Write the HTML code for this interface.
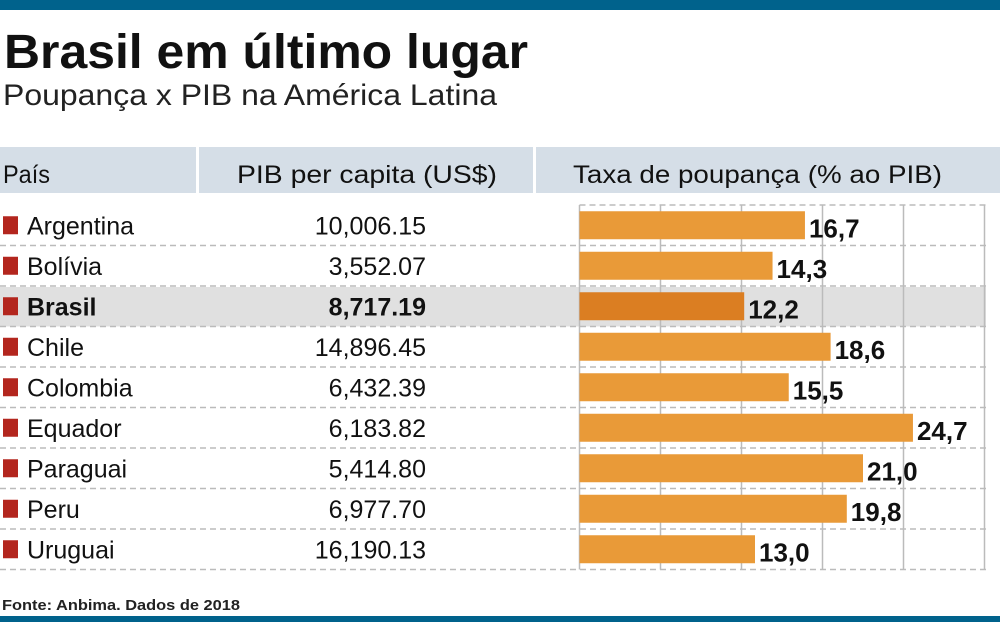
<!DOCTYPE html>
<html><head><meta charset="utf-8"><style>
body{margin:0;background:#fff}
svg{display:block;font-family:"Liberation Sans Narrow","Liberation Sans",sans-serif}
</style></head><body>
<svg id="c" width="1000" height="622" viewBox="0 0 1000 622">
<rect x="0" y="0" width="1000" height="10" fill="#00628c"/>
<rect x="0" y="616" width="1000" height="6" fill="#00628c"/>
<text x="4" y="68" font-size="48" font-weight="bold" fill="#111" textLength="524" lengthAdjust="spacingAndGlyphs">Brasil em último lugar</text>
<text x="3" y="105" font-size="30" fill="#222" textLength="494" lengthAdjust="spacingAndGlyphs">Poupança x PIB na América Latina</text>
<rect x="0" y="147" width="1000" height="46" fill="#d5dee7"/>
<rect x="196" y="147" width="3" height="46" fill="#fff"/>
<rect x="533" y="147" width="3" height="46" fill="#fff"/>
<text x="3" y="183" font-size="25" fill="#111" textLength="47" lengthAdjust="spacingAndGlyphs">País</text>
<text x="237" y="183" font-size="25" fill="#111" textLength="260" lengthAdjust="spacingAndGlyphs">PIB per capita (US$)</text>
<text x="573" y="183" font-size="25" fill="#111" textLength="369" lengthAdjust="spacingAndGlyphs">Taxa de poupança (% ao PIB)</text>
<g id="g"></g>
<text x="2" y="610" font-size="15" font-weight="bold" fill="#222" textLength="238" lengthAdjust="spacingAndGlyphs">Fonte: Anbima. Dados de 2018</text>
</svg>
<script>
const countries=["Argentina","Bolívia","Brasil","Chile","Colombia","Equador","Paraguai","Peru","Uruguai"];
const gdpLabels=["10,006.15","3,552.07","8,717.19","14,896.45","6,432.39","6,183.82","5,414.80","6,977.70","16,190.13"];
const savings=[16.7,14.3,12.2,18.6,15.5,24.7,21.0,19.8,13.0];
const gridTicks=[0,6,12,18,24,30];
const highlight="Brasil";
const NS="http://www.w3.org/2000/svg",g=document.getElementById('g');
const x0=579.5,ppu=13.5,top0=205,rowH=40.5;
const X=v=>x0+v*ppu, Y=i=>top0+i*rowH;
function mk(t,a,p){const e=document.createElementNS(NS,t);for(const k in a)e.setAttribute(k,a[k]);(p||g).appendChild(e);return e;}
countries.forEach((c,i)=>{if(c===highlight){const r=mk('rect',{x:0,y:Y(i)+1,width:986,height:rowH-1,fill:'#e0e0e0'});

}});
const yEnd=Y(countries.length);
gridTicks.forEach(t=>{const l=mk('line',{x1:X(t),x2:X(t),y1:top0,y2:yEnd,stroke:'#bbb','stroke-width':1.5});

});
for(let i=0;i<=countries.length;i++){const l=mk('line',{x1:i===0?X(0):0,x2:986,y1:Y(i),y2:Y(i),stroke:'#bbb','stroke-width':1.5,'stroke-dasharray':'6 4'});

}
countries.forEach((c,i)=>{
 const cy=Y(i)+rowH/2, hl=c===highlight;
 const m=mk('rect',{x:3,y:cy-9,width:15,height:18,fill:'#b3261e'});
 
 
 const n=mk('text',{x:27,y:cy+9,'font-size':25,fill:'#111','font-weight':hl?'bold':'normal'});n.textContent=c;
 
 
 const v=mk('text',{x:426,y:cy+9,'font-size':25,fill:'#111','text-anchor':'end','font-weight':hl?'bold':'normal'});v.textContent=gdpLabels[i];
 
 
 const b=mk('rect',{x:X(0),y:cy-14,width:X(savings[i])-X(0),height:28,fill:hl?'#db7e22':'#e99a38'});
 
 
 const t=mk('text',{x:X(savings[i])+4,y:cy+12,'font-size':26,'font-weight':'bold',fill:'#111'});t.textContent=savings[i].toFixed(1).replace('.',',');
 
 
});
</script>
</body></html>
